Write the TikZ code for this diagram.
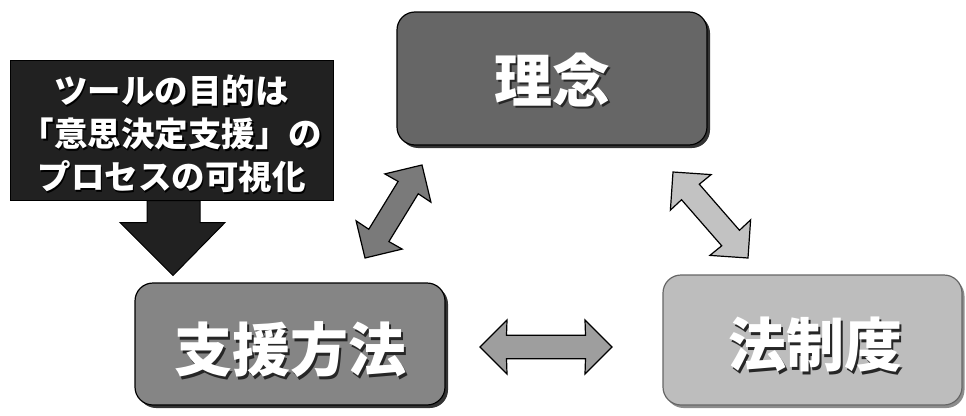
\documentclass[tikz,border=0pt]{standalone}
\usepackage{fontspec}
\newfontfamily\jp{Noto Sans CJK JP}
\usetikzlibrary{calc}
\definecolor{rinenfill}{gray}{0.40}
\definecolor{shienfill}{gray}{0.52}
\definecolor{hoseifill}{gray}{0.74}
\definecolor{blackfill}{gray}{0.13}
\definecolor{arrL}{gray}{0.48}
\definecolor{arrR}{gray}{0.76}
\definecolor{arrH}{gray}{0.62}
\tikzset{
  bigbox/.style={draw=black, line width=1.2pt, rounded corners=18pt, inner sep=0pt},
  boxshadow/.style={fill=black!80, rounded corners=18pt, inner sep=0pt, draw=none},
  bigtext/.style={text=white, font=\jp\bfseries\fontsize{58}{60}\selectfont, inner sep=0pt},
  shadowtext/.style={text=black!85, font=\jp\bfseries\fontsize{58}{60}\selectfont, inner sep=0pt},
  blockarrow/.style={draw=black, line width=1.2pt, line join=miter},
}
\newcommand\dblarr[3]{%
  \path[blockarrow, fill=#3] (#1) -- ($(#1)!38.2pt!45:(#2)$) -- ($(#1)!29pt!24:(#2)$)
    -- ($(#2)!29pt!-24:(#1)$) -- ($(#2)!38.2pt!-45:(#1)$) -- (#2)
    -- ($(#2)!38.2pt!45:(#1)$) -- ($(#2)!29pt!24:(#1)$)
    -- ($(#1)!29pt!-24:(#2)$) -- ($(#1)!38.2pt!-45:(#2)$) -- cycle;}
\begin{document}
\begin{tikzpicture}[x=1pt,y=-1pt]
\useasboundingbox (0,0) rectangle (966,415);
% boxes
\node[boxshadow, minimum width=310pt, minimum height=133pt] (rinenS) at (555,81.5) {};
\node[bigbox, fill=rinenfill, minimum width=310pt, minimum height=133pt] (rinen) at (552,78.5) {};
\node[shadowtext] (rinenTS) at (554.5,82.5) {理念};
\node[bigtext] (rinenT) at (552,80) {理念};

\node[boxshadow, minimum width=310pt, minimum height=122pt] (shienS) at (293,347) {};
\node[bigbox, fill=shienfill, minimum width=310pt, minimum height=122pt] (shien) at (290,344) {};
\node[shadowtext] (shienTS) at (292.5,352.5) {支援方法};
\node[bigtext] (shienT) at (290,350) {支援方法};

\node[boxshadow, fill=black!45, minimum width=299pt, minimum height=130pt] (hoseiS) at (815,343) {};
\node[bigbox, draw=black!60, fill=hoseifill, minimum width=299pt, minimum height=130pt] (hosei) at (812.5,340) {};
\node[shadowtext] (hoseiTS) at (817.5,347.5) {法制度};
\node[bigtext] (hoseiT) at (815,345) {法制度};

% black box
\node[draw=black, line width=1pt, fill=blackfill, minimum width=323pt, minimum height=140pt, inner sep=0pt] (bb) at (171.5,130) {};
\node[text=black, font=\jp\bfseries\fontsize{33.5}{43}\selectfont, align=center, inner sep=0pt] (bbTS) at (173,135.5) {ツールの目的は\\「意思決定支援」の\\プロセスの可視化};
\node[text=white, font=\jp\bfseries\fontsize{33.5}{43}\selectfont, align=center, inner sep=0pt] (bbT) at (171.5,134) {ツールの目的は\\「意思決定支援」の\\プロセスの可視化};

% black down arrow
\coordinate (dtip) at ($(bb.south)+(1.5,75)$);
\path[draw=black, fill=blackfill, line width=1pt, line join=miter]
  ($(bb.south)+(-24.5,0)$) -- ($(bb.south)+(28.5,0)$) -- ($(bb.south)+(28.5,22)$)
  -- ($(bb.south)+(53.5,22)$) -- (dtip) -- ($(bb.south)+(-51.5,22)$)
  -- ($(bb.south)+(-24.5,22)$) -- cycle;

% double arrows
\coordinate (la) at (365,258);
\coordinate (lb) at (422,165);
\coordinate (ra) at (673,172);
\coordinate (rb) at (748,258);
\coordinate (ha) at (480,347);
\coordinate (hb) at (612,347);
\dblarr{la}{lb}{arrL}
\dblarr{ra}{rb}{arrR}
\dblarr{ha}{hb}{arrH}
\end{tikzpicture}
\end{document}
